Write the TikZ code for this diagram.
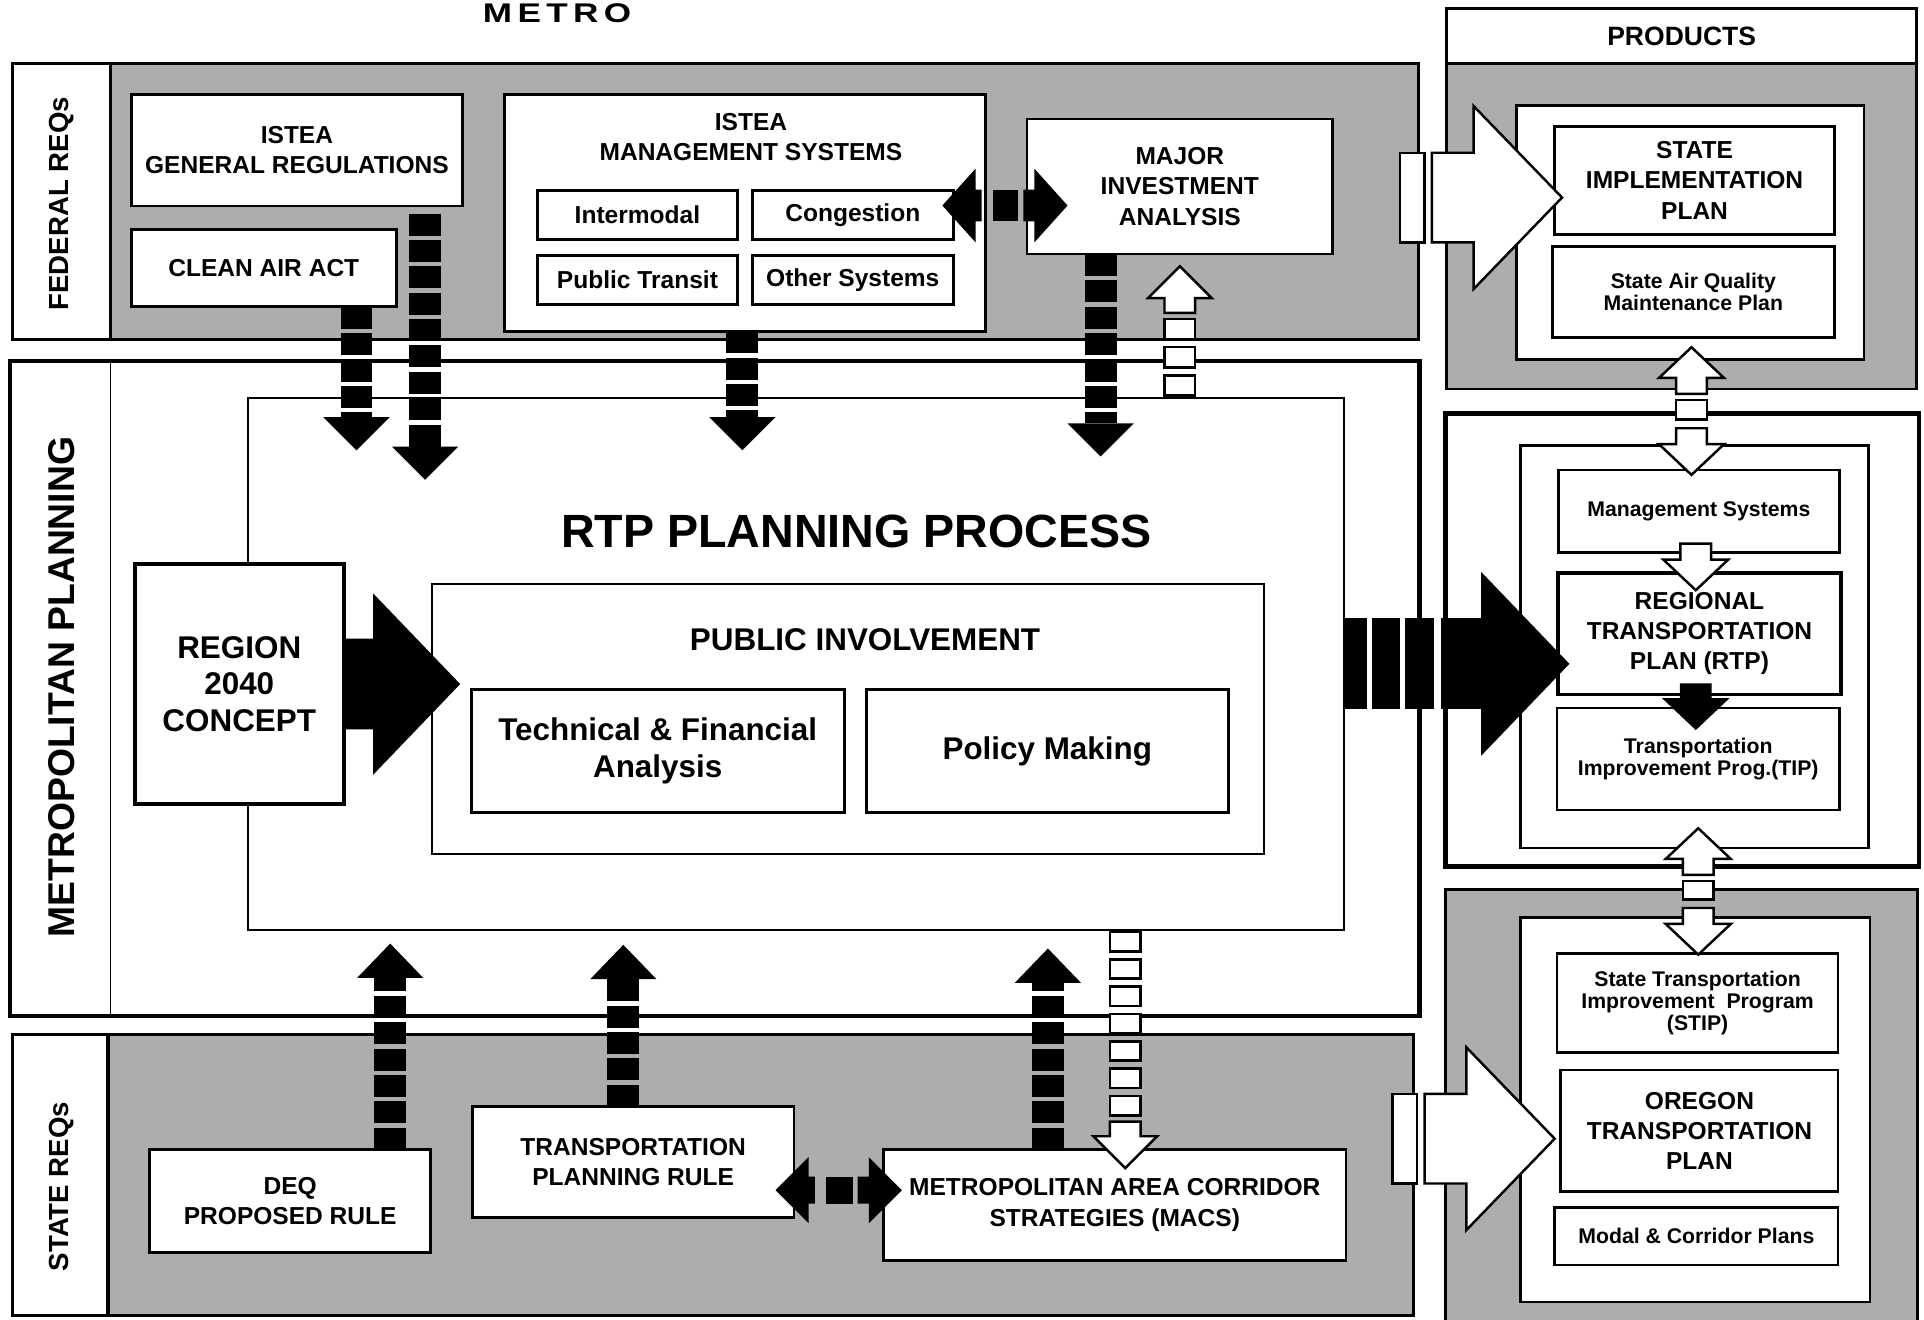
\documentclass[tikz,border=0pt]{standalone}
\usepackage{fontspec}
\setmainfont{Liberation Sans}
\newfontfamily\widefont{Liberation Sans}[FakeStretch=1.3,LetterSpace=20]
\usetikzlibrary{calc}

% type sizes
\newcommand\fA{\fontsize{20}{24.5}\selectfont\bfseries}
\newcommand\fS{\fontsize{17.3}{18}\selectfont\bfseries}
\newcommand\fM{\fontsize{25.6}{30}\selectfont\bfseries}
\newcommand\fT{\fontsize{38}{44}\selectfont\bfseries}
\newcommand\fP{\fontsize{21.6}{26}\selectfont\bfseries}
\newcommand\fR{\fontsize{22.5}{26}\selectfont\bfseries}
\newcommand\fL{\fontsize{30.4}{34}\selectfont\bfseries}

\tikzset{
  bx/.style={draw, line width=2.2pt, fill=white, inner sep=0pt, outer sep=0pt, align=center, font=\fA},
  thinbx/.style={bx, line width=1.6pt},
  thickbx/.style={bx, line width=3.2pt},
  smalltxt/.style={font=\fS},
  sidetxt/.style={rotate=90, inner sep=0pt, font=\fR},
  plain/.style={inner sep=0pt, align=center},
  leftcol/.style={path picture={
      \fill[white] (path picture bounding box.north west) rectangle ([xshift=#1]path picture bounding box.south west);
      \draw[line width=2.6pt] ([xshift=#1]path picture bounding box.north west) -- ([xshift=#1]path picture bounding box.south west);}},
  mpdiv/.style={path picture={
      \draw[line width=1.5pt] ([xshift=#1]path picture bounding box.north west) -- ([xshift=#1]path picture bounding box.south west);}},
  blkshaft/.style={line width=26pt, dash pattern=on 18pt off 3.5pt},
  openpart/.style={draw, line width=2pt, fill=white, line join=miter},
}

% box given by its corners (left, top, right, bottom)
\newcommand\boxat[7][]{%
  \node[bx,#1,minimum width=#5pt-#3pt,minimum height=#6pt-#4pt] (#2) at ({(#3+#5)/2},{(#4+#6)/2}) {#7};}

\newcommand\getxy[3]{\path (#1); \pgfgetlastxy{#2}{#3}}

% black dashed arrow going down, from #1 to the tip #2
\newcommand\BlkDown[2]{%
  \getxy{#1}{\PAx}{\PAy}\getxy{#2}{\PBx}{\PBy}%
  \draw[blkshaft] (\PAx,\PAy) -- (\PAx,{\PBy+27pt});
  \fill ({\PAx-27pt},{\PBy+27pt}) -- ({\PAx+27pt},{\PBy+27pt}) -- (\PAx,\PBy) -- cycle;}
% black dashed arrow going up
\newcommand\BlkUp[2]{%
  \getxy{#1}{\PAx}{\PAy}\getxy{#2}{\PBx}{\PBy}%
  \draw[blkshaft] (\PAx,\PAy) -- (\PAx,{\PBy-28pt});
  \fill ({\PAx-27pt},{\PBy-28pt}) -- ({\PAx+27pt},{\PBy-28pt}) -- (\PAx,\PBy) -- cycle;}
% hollow arrow made of squares, going up
\newcommand\OpenDashUp[3]{%
  \getxy{#1}{\PAx}{\PAy}\getxy{#2}{\PBx}{\PBy}%
  \pgfmathsetmacro\sqp{(\PBy-\PAy-38pt)/#3}%
  \foreach \k in {1,...,#3}{%
    \draw[openpart] ({\PAx-12.5pt},{\PAy+(\k-1)*\sqp+1.5pt}) rectangle ({\PAx+12.5pt},{\PAy+\k*\sqp-5pt});}%
  \draw[openpart] ({\PAx-12.5pt},{\PBy-38pt}) -- ({\PAx-12.5pt},{\PBy-26pt}) -- ({\PAx-26pt},{\PBy-26pt}) -- (\PAx,\PBy)
     -- ({\PAx+26pt},{\PBy-26pt}) -- ({\PAx+12.5pt},{\PBy-26pt}) -- ({\PAx+12.5pt},{\PBy-38pt}) -- cycle;}
% hollow arrow made of squares, going down
\newcommand\OpenDashDown[3]{%
  \getxy{#1}{\PAx}{\PAy}\getxy{#2}{\PBx}{\PBy}%
  \pgfmathsetmacro\sqp{(\PAy-\PBy-38pt)/#3}%
  \foreach \k in {1,...,#3}{%
    \draw[openpart] ({\PAx-12.5pt},{\PAy-(\k-1)*\sqp-1.5pt}) rectangle ({\PAx+12.5pt},{\PAy-\k*\sqp+5pt});}%
  \draw[openpart] ({\PAx-12.5pt},{\PBy+38pt}) -- ({\PAx-12.5pt},{\PBy+26pt}) -- ({\PAx-26pt},{\PBy+26pt}) -- (\PAx,\PBy)
     -- ({\PAx+26pt},{\PBy+26pt}) -- ({\PAx+12.5pt},{\PBy+26pt}) -- ({\PAx+12.5pt},{\PBy+38pt}) -- cycle;}
% hollow double arrow: upper tip #1, lower tip #2
\newcommand\OpenDoubleV[2]{%
  \getxy{#1}{\PAx}{\PAy}\getxy{#2}{\PBx}{\PBy}%
  \draw[openpart] ({\PAx-12.5pt},{\PAy-38pt}) -- ({\PAx-12.5pt},{\PAy-25pt}) -- ({\PAx-26.5pt},{\PAy-25pt}) -- (\PAx,\PAy)
     -- ({\PAx+26.5pt},{\PAy-25pt}) -- ({\PAx+12.5pt},{\PAy-25pt}) -- ({\PAx+12.5pt},{\PAy-38pt}) -- cycle;
  \draw[openpart] ({\PAx-12.5pt},{\PBy+38pt}) -- ({\PAx-12.5pt},{\PBy+25pt}) -- ({\PAx-26.5pt},{\PBy+25pt}) -- (\PAx,\PBy)
     -- ({\PAx+26.5pt},{\PBy+25pt}) -- ({\PAx+12.5pt},{\PBy+25pt}) -- ({\PAx+12.5pt},{\PBy+38pt}) -- cycle;
  \draw[openpart] ({\PAx-12.5pt},{\PAy-43pt}) rectangle ({\PAx+12.5pt},{\PBy+45pt});}
% short hollow arrow pointing down to #1
\newcommand\OpenHeadDown[1]{%
  \getxy{#1}{\PBx}{\PBy}%
  \draw[openpart] ({\PBx-12.5pt},{\PBy+38pt}) -- ({\PBx-12.5pt},{\PBy+25pt}) -- ({\PBx-26.5pt},{\PBy+25pt}) -- (\PBx,\PBy)
     -- ({\PBx+26.5pt},{\PBy+25pt}) -- ({\PBx+12.5pt},{\PBy+25pt}) -- ({\PBx+12.5pt},{\PBy+38pt}) -- cycle;}
% short black arrow pointing down to #1
\newcommand\SolidHeadDown[1]{%
  \getxy{#1}{\PBx}{\PBy}%
  \fill ({\PBx-13pt},{\PBy+38pt}) -- ({\PBx-13pt},{\PBy+26pt}) -- ({\PBx-27.5pt},{\PBy+26pt}) -- (\PBx,\PBy)
     -- ({\PBx+27.5pt},{\PBy+26pt}) -- ({\PBx+13pt},{\PBy+26pt}) -- ({\PBx+13pt},{\PBy+38pt}) -- cycle;}
% black double arrow, left tip #1, right tip #2, head and shaft half heights #3, #4
\newcommand\BlkDoubleH[4]{%
  \getxy{#1}{\PAx}{\PAy}\getxy{#2}{\PBx}{\PBy}%
  \fill (\PAx,\PAy) -- ({\PAx+27pt},{\PAy+#3}) -- ({\PAx+27pt},{\PAy+#4}) -- ({\PAx+32pt},{\PAy+#4})
     -- ({\PAx+32pt},{\PAy-#4}) -- ({\PAx+27pt},{\PAy-#4}) -- ({\PAx+27pt},{\PAy-#3}) -- cycle;
  \fill (\PBx,\PAy) -- ({\PBx-27pt},{\PAy+#3}) -- ({\PBx-27pt},{\PAy+#4}) -- ({\PBx-36pt},{\PAy+#4})
     -- ({\PBx-36pt},{\PAy-#4}) -- ({\PBx-27pt},{\PAy-#4}) -- ({\PBx-27pt},{\PAy-#3}) -- cycle;
  \fill ({\PAx+41pt},{\PAy-#4}) rectangle ({\PBx-40pt},{\PAy+#4});}
% big solid black arrow to the right
\newcommand\BigBlkRight[2]{%
  \getxy{#1}{\PAx}{\PAy}\getxy{#2}{\PBx}{\PBy}%
  \fill (\PAx,{\PAy+37pt}) -- ({\PBx-71pt},{\PAy+37pt}) -- ({\PBx-71pt},{\PAy+74pt}) -- (\PBx,\PAy)
     -- ({\PBx-71pt},{\PAy-74pt}) -- ({\PBx-71pt},{\PAy-37pt}) -- (\PAx,{\PAy-37pt}) -- cycle;}
% big black arrow to the right with a barred shaft
\newcommand\BigBlkDashRight[2]{%
  \getxy{#1}{\PAx}{\PAy}\getxy{#2}{\PBx}{\PBy}%
  \draw[line width=74pt, dash pattern=on 19pt off 4pt on 23pt off 4pt on 24pt off 5pt on 60pt off 1pt]
     (\PAx,\PAy) -- ({\PBx-72pt},\PAy);
  \fill ({\PBx-72pt},{\PAy+75pt}) -- (\PBx,\PAy) -- ({\PBx-72pt},{\PAy-75pt}) -- cycle;}
% big hollow arrow to the right, tip #1
\newcommand\OpenBigRight[1]{%
  \getxy{#1}{\PBx}{\PBy}%
  \draw[openpart] ({\PBx-132pt},{\PBy+36.5pt}) rectangle ({\PBx-112pt},{\PBy-36.5pt});
  \draw[openpart] ({\PBx-106pt},{\PBy+36.5pt}) -- ({\PBx-72pt},{\PBy+36.5pt}) -- ({\PBx-72pt},{\PBy+74.5pt}) -- (\PBx,\PBy)
     -- ({\PBx-72pt},{\PBy-74.5pt}) -- ({\PBx-72pt},{\PBy-36.5pt}) -- ({\PBx-106pt},{\PBy-36.5pt}) -- cycle;}

\begin{document}
\begin{tikzpicture}[x=1pt,y=-1pt]
\useasboundingbox (0,0) rectangle (1568,1075);
\clip (0,0) rectangle (1568,1075);
\fill[white] (0,0) rectangle (1568,1075);

\node[anchor=base, inner sep=0pt, font=\widefont\fontsize{22}{22}\selectfont\bfseries] (metro) at (454,18) {METRO};

% ---------- federal requirements ----------
\boxat[leftcol=80pt, line width=2.4pt, fill=black!32]{fed}{10}{52}{1156}{277}{}
\node[sidetxt] (fedtxt) at (50,166) {FEDERAL REQs};
\boxat{igr}{107}{77}{377}{168}{ISTEA\\GENERAL REGULATIONS}
\boxat{caa}{107}{187}{323}{250}{CLEAN AIR ACT}
\boxat{ims}{411}{77}{803}{270}{}
\node[plain, font=\fA] (imstitle) at (612,112) {ISTEA\\MANAGEMENT SYSTEMS};
\boxat{int}{438}{155}{601}{195}{Intermodal}
\boxat{cong}{613}{155}{777}{195}{Congestion}
\boxat{ptr}{438}{208}{601}{248}{Public Transit}
\boxat{oth}{613}{208}{777}{248}{Other Systems}
\boxat{mia}{837}{97}{1086}{207}{MAJOR\\INVESTMENT\\ANALYSIS}

% ---------- metropolitan planning ----------
\boxat[mpdiv=82pt, line width=3.6pt]{mp}{8}{294}{1157}{828}{}
\node[sidetxt, font=\fL] (mptxt) at (50,560) {METROPOLITAN PLANNING};
\boxat[thinbx]{rtp}{202}{324}{1095}{758}{}
\node[plain, font=\fT] (rtptitle) at (698,433) {RTP PLANNING PROCESS};
\boxat[thinbx]{pub}{352}{476}{1030}{696}{}
\node[plain, font=\fM] (pubtitle) at (705,521) {PUBLIC INVOLVEMENT};
\boxat[font=\fM]{tfa}{384}{562}{688}{662}{Technical \& Financial\\Analysis}
\boxat[font=\fM]{pm}{706}{562}{1001}{662}{Policy Making}
\boxat[thickbx, font=\fM]{reg}{110}{460}{280}{655}{REGION\\2040\\CONCEPT}

% ---------- state requirements ----------
\boxat[leftcol=78pt, line width=2.4pt, fill=black!32]{st}{10}{843}{1152}{1072}{}
\node[sidetxt] (sttxt) at (50,967) {STATE REQs};
\boxat{deq}{122}{937}{351}{1021}{DEQ\\PROPOSED RULE}
\boxat{tpr}{385}{902}{647}{992}{TRANSPORTATION\\PLANNING RULE}
\boxat{macs}{720}{937}{1097}{1027}{METROPOLITAN AREA CORRIDOR\\STRATEGIES (MACS)}

% ---------- products ----------
\boxat[line width=2.4pt, font=\fP]{prodhead}{1179}{7}{1562}{52}{PRODUCTS}
\boxat[line width=2.4pt, fill=black!32]{p1}{1179}{52}{1562}{317}{}
\boxat{p1in}{1236}{86}{1519}{293}{}
\boxat{sip}{1267}{103}{1495}{191}{STATE\\IMPLEMENTATION\\PLAN}
\boxat[smalltxt]{saq}{1265}{201}{1495}{275}{State Air Quality\\Maintenance Plan}
\boxat[line width=3.6pt]{p2}{1178}{337}{1564}{706}{}
\boxat{p2in}{1239}{363}{1523}{691}{}
\boxat[smalltxt]{ms}{1270}{383}{1499}{450}{Management Systems}
\boxat[thickbx]{rtpp}{1270}{467}{1500}{566}{REGIONAL\\TRANSPORTATION\\PLAN (RTP)}
\boxat[smalltxt]{tipb}{1269}{577}{1499}{660}{Transportation\\Improvement Prog.(TIP)}
\boxat[line width=2.4pt, fill=black!32]{p3}{1178}{725}{1563}{1090}{}
\boxat{p3in}{1239}{748}{1524}{1061}{}
\boxat[smalltxt]{stip}{1269}{777}{1498}{858}{State Transportation\\Improvement\ \ Program\\(STIP)}
\boxat{otp}{1272}{872}{1498}{971}{OREGON\\TRANSPORTATION\\PLAN}
\boxat[smalltxt]{mcp}{1267}{984}{1498}{1031}{Modal \& Corridor Plans}

% ---------- arrow columns ----------
\coordinate (cA) at (290.5,0);
\coordinate (cB) at (346.5,0);
\coordinate (cC) at (605,0);
\coordinate (cD) at (897,0);
\coordinate (cE) at (961.5,0);
\coordinate (cF) at (318,0);
\coordinate (cG) at (508,0);
\coordinate (cH) at (854,0);
\coordinate (cI) at (917,0);
\coordinate (cP) at (1378.5,0);
\coordinate (cQ) at (1382,0);
\coordinate (cR) at (1384,0);

% federal inputs to the planning process
\BlkDown{caa.south -| cA}{$(rtp.north -| cA)+(0,43)$}
\BlkDown{$(igr.south -| cB)+(0,6)$}{$(rtp.north -| cB)+(0,67)$}
\BlkDown{ims.south -| cC}{$(rtp.north -| cC)+(0,43)$}
\BlkDown{mia.south -| cD}{$(rtp.north -| cD)+(0,48)$}
\OpenDashUp{rtp.north -| cE}{$(mia.south -| cE)+(0,10)$}{3}
\BlkDoubleH{$(ims.east)+(-35,-6)$}{$(mia.west)+(33,15)$}{30pt}{13pt}

% state inputs to the planning process
\BlkUp{deq.north -| cF}{$(rtp.south -| cF)+(0,11)$}
\BlkUp{tpr.north -| cG}{$(rtp.south -| cG)+(0,12)$}
\BlkUp{macs.north -| cH}{$(rtp.south -| cH)+(0,15)$}
\OpenDashDown{rtp.south -| cI}{$(macs.north -| cI)+(0,15)$}{7}
\BlkDoubleH{$(tpr.east)+(-15,23)$}{$(macs.west)+(15,-12)$}{27pt}{11pt}

% region concept and planning output
\BigBlkRight{reg.east}{$(reg.east -| pub.west)+(23,0)$}
\BigBlkDashRight{rtp.east}{$(rtp.east -| rtpp.west)+(9,0)$}

% requirements feeding the products
\OpenBigRight{$(sip.west)+(6,14)$}
\OpenBigRight{$(otp.west)+(-5,6.5)$}

% links between the products
\OpenDoubleV{$(p1in.south -| cP)+(0,-10)$}{$(ms.north -| cP)+(0,4)$}
\OpenHeadDown{$(rtpp.north -| cQ)+(0,14)$}
\SolidHeadDown{$(tipb.north -| cQ)+(0,18)$}
\OpenDoubleV{$(p2in.south -| cR)+(0,-16)$}{$(stip.north -| cR)+(0,1)$}
\end{tikzpicture}
\end{document}
